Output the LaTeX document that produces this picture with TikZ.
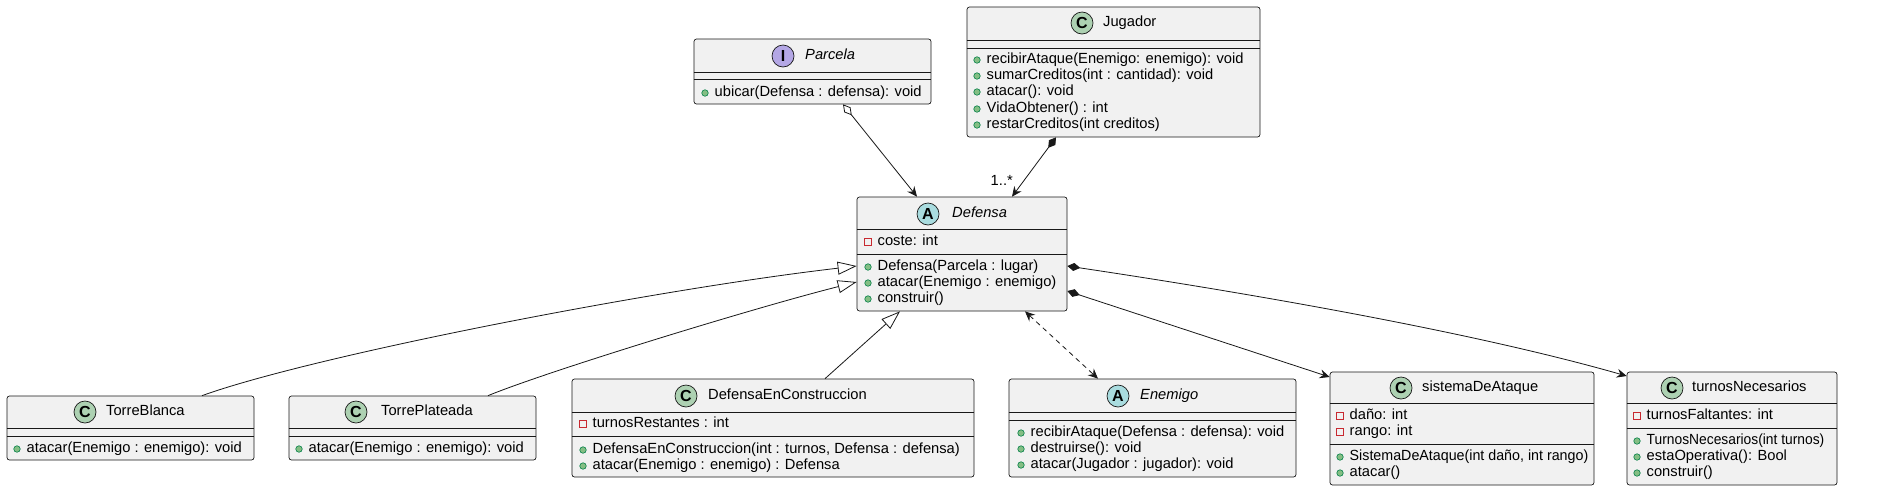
\documentclass[tikz,border=0pt]{standalone}
\usepackage{graphicx}
\usepackage{fontspec}
\setmainfont{Liberation Sans}
\usetikzlibrary{arrows.meta,fit,calc}
\definecolor{boxfill}{HTML}{F1F1F1}
\definecolor{edgec}{HTML}{181818}
\definecolor{cicon}{HTML}{ADD1B2}
\definecolor{aicon}{HTML}{A9DCDF}
\definecolor{iicon}{HTML}{B4A7E5}
\definecolor{pubfill}{HTML}{84BE84}
\definecolor{pubdraw}{HTML}{038048}
\definecolor{privdraw}{HTML}{C82930}
\tikzset{
  umlbox/.style={draw=edgec, fill=boxfill, line width=0.7pt, rounded corners=2.5pt, inner sep=0pt},
  sepline/.style={draw=edgec, line width=0.7pt},
  icon/.style={circle, draw=edgec, line width=0.7pt, minimum size=22pt, inner sep=0pt, font=\fontsize{16}{16}\selectfont\bfseries},
  pubdot/.style={circle, draw=pubdraw, fill=pubfill, line width=0.6pt, minimum size=6.5pt, inner sep=0pt},
  privsq/.style={rectangle, draw=privdraw, line width=0.8pt, minimum size=7pt, inner sep=0pt},
  itxt/.style={anchor=west, inner sep=0pt, text height=10.5pt, text depth=3pt, font=\fontsize{14.7}{16}\selectfont},
  conn/.style={draw=edgec, line width=0.8pt},
  aggr/.style={conn, {Diamond[open,length=14pt,width=8pt,fill=white]}-{Stealth[length=10pt,width=9pt,inset=3.5pt]}},
  compo/.style={conn, {Diamond[length=13pt,width=8pt]}-{Stealth[length=10pt,width=9pt,inset=3.5pt]}},
  inh/.style={conn, -{Triangle[open,length=19pt,width=13pt,fill=white]}},
  dep/.style={conn, dash pattern=on 5pt off 4pt, {Stealth[length=10pt,width=9pt,inset=3.5pt]}-{Stealth[length=10pt,width=9pt,inset=3.5pt]}},
}
% name, bullet x, y, text
\newcommand{\pubm}[4]{\node[pubdot] (#1d) at (#2,#3) {}; \node[itxt] (#1) at ($(#2,#3)+(9.5,0)$) {#4};}
\newcommand{\privm}[4]{\node[privsq] (#1d) at (#2,#3) {}; \node[itxt] (#1) at ($(#2,#3)+(9.5,0)$) {#4};}
% name, icon x, y, icon fill, letter, name x, text
\newcommand{\headr}[7]{\node[icon, fill=#4] (#1i) at (#2,#3) {#5}; \node[itxt] (#1n) at (#6,#3) {#7};}
% name, y
\newcommand{\sepr}[2]{\draw[sepline] (#1.west |- 0,#2) -- (#1.east |- 0,#2);}

\begin{document}
\begin{tikzpicture}[x=1pt,y=-1pt]
\useasboundingbox (0,0) rectangle (1881,491);
\fill[white] (0,0) rectangle (1881,491);

% Parcela
\node[umlbox, fit={(694,39) (931,104)}] (parcela) {};
\headr{parcelah}{783}{56}{iicon}{I}{805}{\itshape Parcela}
\sepr{parcela}{72}\sepr{parcela}{79}
\pubm{parcela1}{705}{93}{ubicar(Defensa : defensa): void}

% Jugador
\node[umlbox, fit={(967,7) (1260,137)}] (jugador) {};
\headr{jugadorh}{1082}{23}{cicon}{C}{1103}{Jugador}
\sepr{jugador}{40}\sepr{jugador}{48}
\pubm{jug1}{977}{60}{recibirAtaque(Enemigo: enemigo): void}
\pubm{jug2}{977}{76}{sumarCreditos(int : cantidad): void}
\pubm{jug3}{977}{92}{atacar(): void}
\pubm{jug4}{977}{109}{VidaObtener() : int}
\pubm{jug5}{977}{125}{restarCreditos(int creditos)}

% Defensa
\node[umlbox, fit={(857,197) (1067,311)}] (defensa) {};
\headr{defensah}{928}{214}{aicon}{A}{952}{\itshape Defensa}
\sepr{defensa}{229}
\privm{def0}{868}{242}{coste: int}
\sepr{defensa}{254}
\pubm{def1}{868}{267}{Defensa(Parcela : lugar)}
\pubm{def2}{868}{283}{atacar(Enemigo : enemigo)}
\pubm{def3}{868}{299}{construir()}

% TorreBlanca
\node[umlbox, fit={(7,396) (254,460)}] (tblanca) {};
\headr{tblancah}{85}{412}{cicon}{C}{106}{TorreBlanca}
\sepr{tblanca}{428}\sepr{tblanca}{436}
\pubm{tb1}{17}{449}{atacar(Enemigo : enemigo): void}

% TorrePlateada
\node[umlbox, fit={(289,396) (536,460)}] (tplateada) {};
\headr{tplateadah}{356}{412}{cicon}{C}{381}{TorrePlateada}
\sepr{tplateada}{428}\sepr{tplateada}{436}
\pubm{tp1}{299}{449}{atacar(Enemigo : enemigo): void}

% DefensaEnConstruccion
\node[umlbox, fit={(572,379) (974,477)}] (dec) {};
\headr{dech}{686}{396}{cicon}{C}{708}{DefensaEnConstruccion}
\sepr{dec}{412}
\privm{dec0}{583}{424}{turnosRestantes : int}
\sepr{dec}{436}
\pubm{dec1}{583}{450}{DefensaEnConstruccion(int : turnos, Defensa : defensa)}
\pubm{dec2}{583}{466}{atacar(Enemigo : enemigo) : Defensa}

% Enemigo
\node[umlbox, fit={(1009,379) (1296,477)}] (enemigo) {};
\headr{enemigoh}{1118}{396}{aicon}{A}{1140}{\itshape Enemigo}
\sepr{enemigo}{412}\sepr{enemigo}{420}
\pubm{ene1}{1021}{433}{recibirAtaque(Defensa : defensa): void}
\pubm{ene2}{1021}{449}{destruirse(): void}
\pubm{ene3}{1021}{465}{atacar(Jugador : jugador): void}

% sistemaDeAtaque
\node[umlbox, fit={(1330,372) (1594,485)}] (sistema) {};
\headr{sistemah}{1401}{388}{cicon}{C}{1422}{sistemaDeAtaque}
\sepr{sistema}{403}
\privm{sis0}{1340}{416}{daño: int}
\privm{sis1}{1340}{432}{rango: int}
\sepr{sistema}{444}
\pubm{sis2}{1340}{457}{\scalebox{0.97}[1]{SistemaDeAtaque(int daño, int rango)}}
\pubm{sis3}{1340}{473}{atacar()}

% turnosNecesarios
\node[umlbox, fit={(1627,372) (1837,485)}] (turnos) {};
\headr{turnosh}{1672}{388}{cicon}{C}{1692}{turnosNecesarios}
\sepr{turnos}{403}
\privm{tur0}{1637}{416}{turnosFaltantes: int}
\sepr{turnos}{428}
\pubm{tur1}{1637}{441}{\scalebox{0.94}[1]{TurnosNecesarios(int turnos)}}
\pubm{tur2}{1637}{457}{estaOperativa(): Bool}
\pubm{tur3}{1637}{473}{construir()}

% connectors
\draw[aggr] ([xshift=30.5pt]parcela.south) -- ([xshift=-45pt]defensa.north);
\draw[compo] ([xshift=-57.5pt]jugador.south) -- ([xshift=50pt]defensa.north);
\node[itxt, anchor=east] (mult) at (1013,182) {1..*};
\draw[inh] ([xshift=71.5pt]tblanca.north) .. controls (312,356) and (650,290) .. ([yshift=-12pt]defensa.west);
\draw[inh] ([xshift=75.5pt]tplateada.north) .. controls (548,371) and (757,307) .. ([yshift=-28pt]defensa.west);
\draw[inh] ([xshift=52pt]dec.north) -- ([xshift=-62pt]defensa.south);
\draw[dep] ([xshift=63pt]defensa.south) -- ([xshift=-54.5pt]enemigo.north);
\draw[compo] ([yshift=-37pt]defensa.east) -- ([yshift=51.5pt]sistema.west);
\draw[compo] ([yshift=-12pt]defensa.east) .. controls (1268,296) and (1480,334) .. ([yshift=52.5pt]turnos.west);
\end{tikzpicture}
\end{document}
